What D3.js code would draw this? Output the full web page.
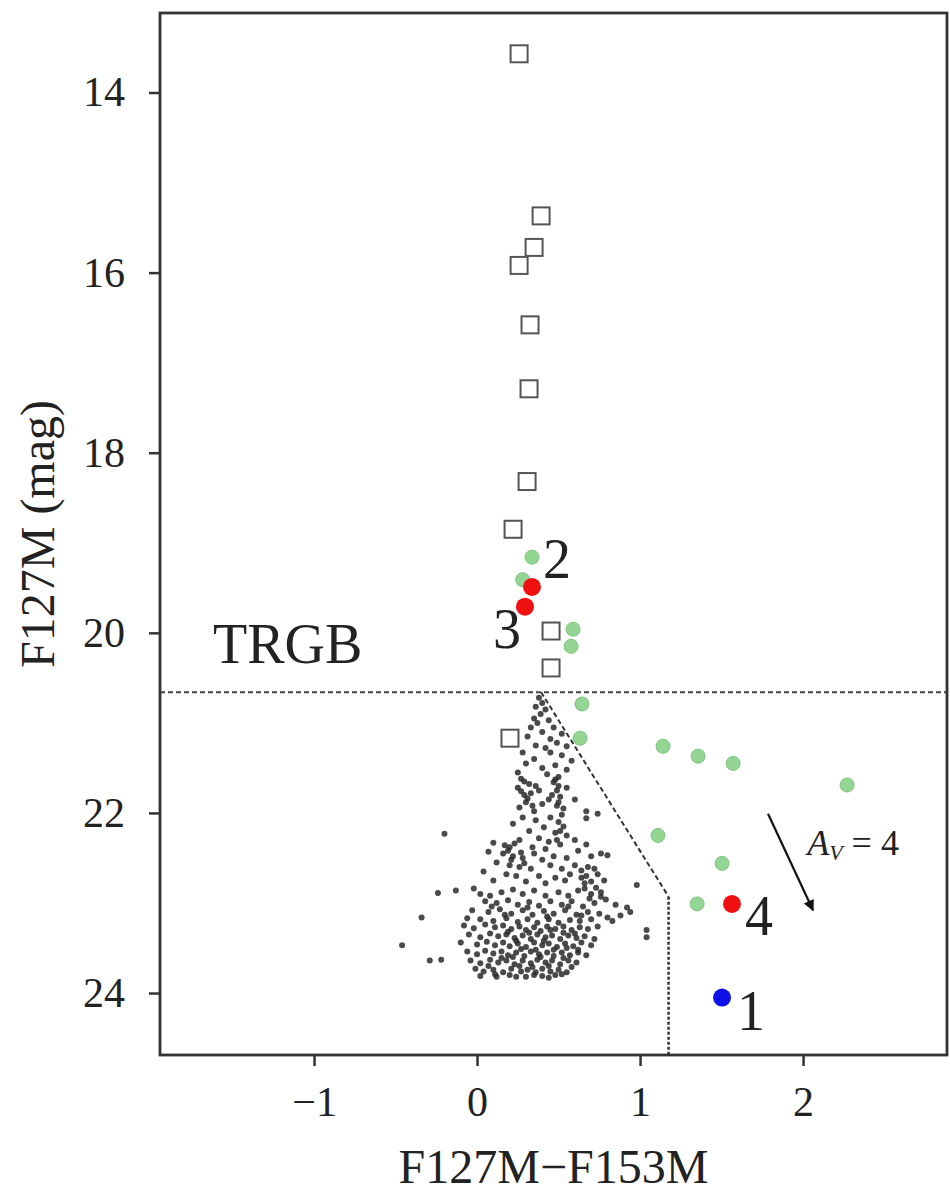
<!DOCTYPE html>
<html>
<head>
<meta charset="utf-8">
<script src="https://cdn.jsdelivr.net/npm/d3@7"></script>
<style>
  body { margin: 0; background: #fff; }
  text { font-family: "Liberation Serif", "DejaVu Serif", serif; fill: #222; }
</style>
</head>
<body>
<svg id="chart" width="950" height="1197"></svg>
<script>
// colour-magnitude diagram, F127M vs F127M-F153M

// axis ticks
var xTicks = [-1, 0, 1, 2];
var yTicks = [14, 16, 18, 20, 22, 24];

// tip of the red giant branch
var trgbMag = 20.66;

// selection boundary (dashed): apex, knee, bottom
var boundary = [[0.393, 20.66], [1.175, 22.93], [1.175, 24.69]];

// reddening vector A_V = 4
var arrowStart = [1.785, 22.01];
var arrowEnd = [2.061, 23.08];

// bright stars (open squares)
var squareColor = [0.258, 0.393, 0.350, 0.258, 0.325, 0.319, 0.307, 0.221, 0.454, 0.454, 0.202];
var squareMag = [13.57, 15.37, 15.72, 15.92, 16.58, 17.29, 18.32, 18.85, 19.98, 20.39, 21.17];

// candidates (light green)
var greenColor = [0.337, 0.28, 0.589, 0.577, 0.644, 0.632, 1.141, 1.356, 1.571, 2.270, 1.110, 1.503, 1.350];
var greenMag = [19.16, 19.41, 19.96, 20.15, 20.79, 21.17, 21.26, 21.37, 21.45, 21.69, 22.25, 22.56, 23.01];

// numbered sources
var srcLabel = ["2", "3", "4", "1"];
var srcColor = [0.337, 0.294, 1.564, 1.503];
var srcMag = [19.49, 19.71, 23.01, 24.05];
var srcFill = ["#f01010", "#f01010", "#f01010", "#1010e8"];
var labelColor = [0.405, 0.098, 1.644, 1.595];
var labelMag = [19.39, 20.17, 23.36, 24.41];

// faint field stars (small grey dots)
var cloud = [
  [0.38,20.72],[0.40,20.78],[0.36,20.82],[0.42,20.85],[0.39,20.90],[0.35,20.95],[0.44,20.97],[0.37,21.00],
  [0.33,21.05],[0.47,21.05],[0.40,21.10],[0.52,21.12],[0.31,21.15],[0.45,21.18],[0.49,21.22],[0.36,21.25],[0.55,21.26],[0.42,21.28],
  [0.28,21.33],[0.45,21.33],[0.52,21.36],[0.35,21.40],[0.58,21.42],[0.30,21.45],[0.48,21.47],[0.40,21.50],[0.55,21.52],[0.25,21.55],[0.43,21.57],[0.50,21.60],
  [0.27,21.62],[0.29,21.65],[0.32,21.68],[0.36,21.70],[0.47,21.66],[0.50,21.70],[0.55,21.72],[0.38,21.75],[0.33,21.78],[0.46,21.80],
  [0.51,21.82],[0.60,21.85],[0.30,21.88],[0.40,21.90],[0.49,21.92],[0.53,21.95],[0.67,21.98],[0.35,21.98],[0.26,21.94],[0.44,21.85],
  [0.25,21.72],[0.27,21.76],[0.29,21.80],[0.31,21.84],[0.34,21.92],[0.48,21.63],[0.49,21.75],[0.50,21.88],[0.52,22.02],[0.51,22.20],[0.49,22.30],
  [0.67,22.06],[0.74,22.01],
  [-0.20,22.23],[0.22,22.12],[0.28,22.05],[0.36,22.08],[0.45,22.05],[0.50,22.10],[0.53,22.15],[0.41,22.16],[0.32,22.20],[0.48,22.22],
  [0.55,22.25],[0.38,22.28],[0.26,22.30],[0.44,22.32],[0.51,22.35],[0.10,22.33],[0.20,22.38],[0.34,22.38],[0.60,22.30],[0.67,22.35],[0.42,22.40],
  [0.17,22.36],[0.19,22.42],[0.23,22.34],[0.27,22.44],[0.21,22.52],[0.29,22.56],
  [0.07,22.43],[0.16,22.45],[0.22,22.48],[0.28,22.50],[0.35,22.45],[0.40,22.52],[0.47,22.48],[0.55,22.50],[0.62,22.42],[0.70,22.48],
  [0.76,22.45],[0.80,22.47],[0.12,22.55],[0.20,22.58],[0.26,22.60],[0.33,22.62],[0.45,22.58],[0.52,22.62],[0.60,22.58],[0.68,22.60],
  [0.72,22.62],[0.04,22.65],[0.18,22.68],[0.24,22.70],[0.38,22.70],[0.48,22.72],[0.57,22.68],[0.64,22.72],[0.74,22.68],[0.10,22.75],
  [0.30,22.76],[0.42,22.78],[0.54,22.75],[0.66,22.78],[0.78,22.75],[0.98,22.80],
  [0.64,22.64],[0.67,22.70],[0.70,22.76],[0.73,22.83],[0.76,22.88],[0.79,22.96],[0.66,22.84],[0.69,22.95],
  [-0.02,22.84],[-0.13,22.86],[-0.24,22.89],
  [0.02,22.90],[0.08,22.92],[0.15,22.88],[0.22,22.85],[0.28,22.90],[0.35,22.86],[0.42,22.92],[0.50,22.88],[0.56,22.92],[0.62,22.86],
  [0.70,22.90],[0.76,22.93],[0.05,22.98],[0.12,23.00],[0.19,22.97],[0.25,23.02],[0.32,22.99],[0.38,23.03],[0.45,22.98],[0.52,23.02],
  [0.58,22.98],[0.65,23.04],[0.72,23.00],[0.85,23.02],[0.92,23.05],[-0.03,23.08],[0.07,23.10],[0.14,23.07],[0.21,23.12],[0.28,23.08],
  [0.34,23.13],[0.41,23.09],[0.47,23.12],[0.54,23.08],[0.61,23.13],[0.68,23.10],[0.75,23.12],[0.88,23.14],[0.02,23.18],[0.10,23.20],
  [0.18,23.17],[0.25,23.21],[0.31,23.18],[0.37,23.22],[0.44,23.18],[0.50,23.22],[0.57,23.19],[0.63,23.20],[0.70,23.18],[0.80,23.16],
  [0.17,23.13],[0.31,23.05],[0.43,23.15],[0.56,23.04],[0.64,23.14],[0.09,23.04],[-0.06,23.17],[0.83,23.20],[0.94,23.10],
  [-0.34,23.16],[-0.46,23.47],[-0.29,23.64],[-0.22,23.63],
  [-0.08,23.25],[-0.02,23.28],[0.05,23.24],[0.11,23.27],[0.16,23.25],[0.21,23.29],[0.26,23.26],[0.30,23.30],[0.35,23.27],[0.39,23.31],
  [0.43,23.26],[0.48,23.29],[0.53,23.26],[0.58,23.30],[0.63,23.27],[0.68,23.29],[0.74,23.26],[1.04,23.30],[1.04,23.38],[-0.05,23.35],
  [0.02,23.38],[0.08,23.34],[0.13,23.37],[0.18,23.35],[0.23,23.39],[0.28,23.36],[0.33,23.40],[0.37,23.35],[0.42,23.38],[0.46,23.36],
  [0.51,23.40],[0.56,23.36],[0.61,23.39],[0.66,23.37],[0.72,23.40],[-0.10,23.44],[0.00,23.46],[0.06,23.43],[0.11,23.47],[0.16,23.44],
  [0.20,23.48],[0.25,23.45],[0.30,23.49],[0.35,23.44],[0.40,23.47],[0.44,23.45],[0.49,23.49],[0.54,23.45],[0.59,23.48],[0.64,23.44],[0.70,23.47],
  [0.19,23.32],[0.24,23.42],[0.27,23.51],[0.32,23.33],[0.36,23.52],[0.41,23.42],[0.45,23.30],[0.47,23.52],[0.53,23.33],[0.55,23.50],[0.60,23.34],[0.62,23.52],
  [-0.06,23.54],[0.00,23.57],[0.05,23.53],[0.10,23.56],[0.15,23.54],[0.19,23.58],[0.24,23.55],[0.29,23.59],[0.33,23.54],[0.38,23.57],
  [0.43,23.55],[0.47,23.59],[0.52,23.55],[0.57,23.58],[0.62,23.55],[0.67,23.58],[-0.04,23.64],[0.02,23.67],[0.08,23.63],[0.13,23.66],
  [0.18,23.64],[0.23,23.68],[0.28,23.64],[0.33,23.67],[0.37,23.63],[0.42,23.66],[0.46,23.64],[0.51,23.68],[0.56,23.64],[0.61,23.66],
  [0.15,23.61],[0.22,23.60],[0.26,23.70],[0.34,23.71],[0.39,23.60],[0.44,23.70],[0.53,23.61],[0.58,23.71],[0.07,23.70],
  [-0.01,23.73],[0.04,23.76],[0.10,23.74],[0.16,23.77],[0.21,23.73],[0.27,23.76],[0.31,23.74],[0.36,23.77],[0.40,23.73],[0.45,23.76],
  [0.50,23.74],[0.55,23.77],[0.02,23.81],[0.12,23.82],[0.20,23.80],[0.30,23.82],[0.40,23.81],[0.48,23.80],
  [0.11,23.79],[0.24,23.82],[0.35,23.80],[0.44,23.83],[0.52,23.79]
];

var svg = d3.select("#chart");

var margin = {top: 13, left: 160};
var plotWidth = 787;
var plotHeight = 1042;

var x = d3.scaleLinear().domain([-1.945, 2.883]).range([0, plotWidth]);
var y = d3.scaleLinear().domain([13.117, 24.688]).range([0, plotHeight]);

var plot = svg.append("g")
  .attr("transform", "translate(" + margin.left + "," + margin.top + ")");

// field stars
plot.append("g").selectAll("circle")
  .data(cloud)
  .enter().append("circle")
  .attr("cx", function(d) { return x(d[0]); })
  .attr("cy", function(d) { return y(d[1]); })
  .attr("r", 3)
  .attr("fill", "#2a2a2a")
  .attr("fill-opacity", 0.85);

// open squares
var sq = 17;
plot.append("g").selectAll("rect")
  .data(squareColor)
  .enter().append("rect")
  .attr("x", function(d) { return x(d) - sq / 2; })
  .attr("y", function(d, i) { return y(squareMag[i]) - sq / 2; })
  .attr("width", sq)
  .attr("height", sq)
  .attr("fill", "none")
  .attr("stroke", "#555")
  .attr("stroke-width", 2);

// green candidates
plot.append("g").selectAll("circle")
  .data(greenColor)
  .enter().append("circle")
  .attr("cx", function(d) { return x(d); })
  .attr("cy", function(d, i) { return y(greenMag[i]); })
  .attr("r", 7)
  .attr("fill", "#93d593")
  .attr("stroke", "#7fc47f")
  .attr("stroke-width", 1);

// TRGB line
plot.append("line")
  .attr("x1", 0).attr("x2", plotWidth)
  .attr("y1", y(trgbMag)).attr("y2", y(trgbMag))
  .attr("stroke", "#444")
  .attr("stroke-width", 2)
  .attr("stroke-dasharray", "5,3");

// boundary
var line = d3.line()
  .x(function(d) { return x(d[0]); })
  .y(function(d) { return y(d[1]); });
plot.append("path")
  .datum(boundary.slice(0, 2))
  .attr("d", line)
  .attr("fill", "none")
  .attr("stroke", "#333")
  .attr("stroke-width", 2)
  .attr("stroke-dasharray", "5,3");
plot.append("path")
  .datum(boundary.slice(1))
  .attr("d", line)
  .attr("fill", "none")
  .attr("stroke", "#333")
  .attr("stroke-width", 2.5)
  .attr("stroke-dasharray", "3,2");

// numbered sources
plot.append("g").selectAll("circle")
  .data(srcColor)
  .enter().append("circle")
  .attr("cx", function(d) { return x(d); })
  .attr("cy", function(d, i) { return y(srcMag[i]); })
  .attr("r", 9)
  .attr("fill", function(d, i) { return srcFill[i]; });

plot.append("g").selectAll("text")
  .data(srcLabel)
  .enter().append("text")
  .attr("x", function(d, i) { return x(labelColor[i]); })
  .attr("y", function(d, i) { return y(labelMag[i]); })
  .style("font-size", "56px")
  .text(function(d) { return d; });

plot.append("text")
  .attr("x", x(-1.62))
  .attr("y", y(20.335))
  .style("font-size", "56px")
  .text("TRGB");

// reddening arrow
svg.append("defs").append("marker")
  .attr("id", "head")
  .attr("viewBox", "0 0 10 10")
  .attr("refX", 9).attr("refY", 5)
  .attr("markerWidth", 6).attr("markerHeight", 5)
  .attr("markerUnits", "strokeWidth")
  .attr("orient", "auto")
  .append("path")
  .attr("d", "M0,0 L10,5 L0,10 z")
  .attr("fill", "#111");

plot.append("line")
  .attr("x1", x(arrowStart[0])).attr("y1", y(arrowStart[1]))
  .attr("x2", x(arrowEnd[0])).attr("y2", y(arrowEnd[1]))
  .attr("stroke", "#111")
  .attr("stroke-width", 2.2)
  .attr("marker-end", "url(#head)");

var av = plot.append("text")
  .attr("x", x(2.025))
  .attr("y", y(22.47))
  .style("font-size", "36px");
av.append("tspan").style("font-style", "italic").text("A");
av.append("tspan").style("font-style", "italic").style("font-size", "22px").attr("dy", 5).text("V");
av.append("tspan").attr("dy", -5).text(" = 4");

// axes
var xAxis = d3.axisBottom(x).tickValues(xTicks).tickSize(11).tickPadding(20).tickFormat(d3.format("d"));
var yAxis = d3.axisLeft(y).tickValues(yTicks).tickSize(11).tickPadding(24).tickFormat(d3.format("d"));

var xGroup = plot.append("g").attr("transform", "translate(0," + plotHeight + ")").call(xAxis);
var yGroup = plot.append("g").call(yAxis);

[xGroup, yGroup].forEach(function(g) {
  g.select(".domain").remove();
  g.selectAll(".tick line").attr("stroke", "#333").attr("stroke-width", 2.5);
  g.selectAll(".tick text")
    .style("font-family", "'Liberation Serif', serif")
    .style("font-size", "42px")
    .attr("fill", "#222");
});

// frame
plot.append("rect")
  .attr("width", plotWidth)
  .attr("height", plotHeight)
  .attr("fill", "none")
  .attr("stroke", "#333")
  .attr("stroke-width", 2.8);

// axis labels
svg.append("text")
  .attr("x", margin.left + plotWidth / 2)
  .attr("y", 1183)
  .attr("text-anchor", "middle")
  .style("font-size", "48px")
  .text("F127M\u2212F153M");

svg.append("text")
  .attr("transform", "translate(54," + (margin.top + plotHeight / 2) + ") rotate(-90)")
  .attr("text-anchor", "middle")
  .style("font-size", "48px")
  .text("F127M (mag)");
</script>
</body>
</html>
